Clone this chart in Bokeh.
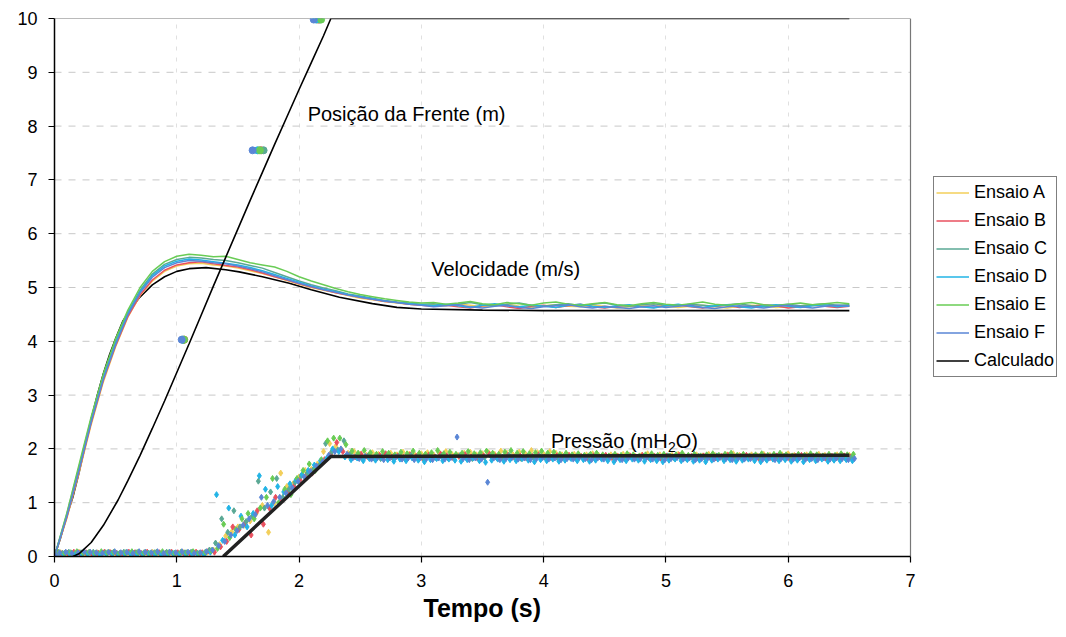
import numpy as np
from bokeh.plotting import figure
from bokeh.models import Range1d, Legend, LegendItem, Label, FixedTicker, Title
from bokeh.embed import file_html
from bokeh.resources import INLINE

# ---------------- data ----------------
series_names = ["Ensaio A", "Ensaio B", "Ensaio C", "Ensaio D", "Ensaio E", "Ensaio F"]
series_colors = ["#f3cf5a", "#e9505f", "#5aa894", "#22b4e6", "#69cc55", "#5a86d6"]

# measured velocity (m/s), sampled every 0.1 s from 0 to 6.5 s
t_vel = np.round(np.arange(0, 66) * 0.1, 2)
vel_A = [0, 0.7, 1.55, 2.45, 3.25, 3.9, 4.45, 4.85, 5.12, 5.3, 5.4,
         5.44, 5.45, 5.42, 5.4, 5.36, 5.31, 5.26, 5.2, 5.13, 5.06,
         5.0, 4.95, 4.9, 4.85, 4.8, 4.77, 4.74, 4.71, 4.69, 4.67,
         4.68, 4.66, 4.7, 4.67, 4.64, 4.66, 4.69, 4.65, 4.63, 4.66, 4.68, 4.65, 4.64, 4.67, 4.65,
         4.62, 4.64, 4.66, 4.68, 4.65, 4.63, 4.65, 4.67, 4.64, 4.62, 4.65, 4.67, 4.66, 4.63, 4.64,
         4.66, 4.68, 4.65, 4.64, 4.66]
vel_B = [0, 0.72, 1.58, 2.48, 3.28, 3.92, 4.46, 4.86, 5.14, 5.32, 5.42,
         5.46, 5.48, 5.44, 5.41, 5.38, 5.33, 5.27, 5.2, 5.14, 5.07,
         5.01, 4.96, 4.9, 4.86, 4.82, 4.78, 4.74, 4.72, 4.69, 4.67,
         4.65, 4.67, 4.64, 4.62, 4.66, 4.68, 4.64, 4.61, 4.65, 4.67, 4.63, 4.66, 4.69, 4.64, 4.62,
         4.65, 4.67, 4.64, 4.63, 4.66, 4.68, 4.64, 4.62, 4.65, 4.67, 4.63, 4.65, 4.68, 4.66, 4.62,
         4.64, 4.67, 4.65, 4.63, 4.65]
vel_C = [0, 0.78, 1.66, 2.56, 3.36, 4.0, 4.54, 4.95, 5.25, 5.43, 5.52,
         5.56, 5.55, 5.52, 5.5, 5.46, 5.41, 5.36, 5.28, 5.2, 5.12,
         5.05, 4.99, 4.94, 4.88, 4.84, 4.8, 4.76, 4.73, 4.71, 4.69,
         4.7, 4.67, 4.69, 4.72, 4.68, 4.66, 4.69, 4.71, 4.67, 4.65, 4.68, 4.7, 4.66, 4.69, 4.71,
         4.67, 4.65, 4.68, 4.7, 4.67, 4.66, 4.69, 4.67, 4.65, 4.68, 4.7, 4.66, 4.64, 4.67, 4.69,
         4.66, 4.68, 4.7, 4.67, 4.68]
vel_D = [0, 0.76, 1.63, 2.53, 3.33, 3.97, 4.52, 4.92, 5.22, 5.4, 5.49,
         5.53, 5.51, 5.48, 5.45, 5.42, 5.37, 5.31, 5.24, 5.17, 5.1,
         5.03, 4.97, 4.92, 4.87, 4.83, 4.79, 4.75, 4.72, 4.7, 4.68,
         4.66, 4.69, 4.66, 4.63, 4.67, 4.7, 4.66, 4.64, 4.67, 4.65, 4.63, 4.67, 4.69, 4.65, 4.63,
         4.66, 4.68, 4.64, 4.62, 4.66, 4.69, 4.65, 4.63, 4.66, 4.68, 4.64, 4.62, 4.66, 4.68, 4.65,
         4.63, 4.66, 4.68, 4.64, 4.66]
vel_E = [0, 0.8, 1.7, 2.6, 3.4, 4.05, 4.58, 5.0, 5.3, 5.48, 5.58,
         5.62, 5.6, 5.57, 5.58, 5.52, 5.46, 5.42, 5.38, 5.3, 5.2,
         5.12, 5.05, 4.98, 4.92, 4.87, 4.83, 4.79, 4.76, 4.73, 4.71,
         4.72, 4.69, 4.71, 4.74, 4.7, 4.68, 4.72, 4.7, 4.67, 4.71, 4.73, 4.69, 4.67, 4.7, 4.72,
         4.68, 4.66, 4.7, 4.72, 4.69, 4.67, 4.7, 4.73, 4.69, 4.67, 4.7, 4.72, 4.68, 4.66, 4.69,
         4.71, 4.68, 4.7, 4.72, 4.7]
vel_F = [0, 0.74, 1.6, 2.5, 3.3, 3.94, 4.49, 4.9, 5.19, 5.37, 5.46,
         5.5, 5.49, 5.46, 5.44, 5.4, 5.35, 5.29, 5.22, 5.15, 5.08,
         5.02, 4.96, 4.91, 4.86, 4.82, 4.78, 4.75, 4.72, 4.69, 4.67,
         4.64, 4.66, 4.68, 4.64, 4.62, 4.65, 4.67, 4.63, 4.61, 4.64, 4.66, 4.68, 4.64, 4.62, 4.65,
         4.63, 4.61, 4.64, 4.66, 4.63, 4.65, 4.67, 4.63, 4.61, 4.64, 4.66, 4.64, 4.62, 4.65, 4.67,
         4.64, 4.62, 4.65, 4.67, 4.65]
vel_series = [vel_A, vel_B, vel_C, vel_D, vel_E, vel_F]

# measured pressure (mH2O), sampled every 0.05 s; each test has its own sampling phase (s)
t_press = np.round(np.arange(0, 131) * 0.05, 3)
press_phase = [0.0, 0.008, 0.017, 0.025, 0.033, 0.042]
p_base_A = [0.06, 0.07, 0.05, 0.06, 0.08, 0.06, 0.05, 0.07, 0.06, 0.08, 0.05, 0.06, 0.07,
            0.06, 0.05, 0.07, 0.08, 0.06, 0.05, 0.07, 0.06, 0.08, 0.06, 0.07, 0.05, 0.08]
p_base_B = [0.07, 0.05, 0.06, 0.08, 0.06, 0.07, 0.05, 0.06, 0.08, 0.07, 0.06, 0.05, 0.08,
            0.07, 0.06, 0.08, 0.05, 0.07, 0.06, 0.08, 0.07, 0.05, 0.06, 0.08, 0.07, 0.1]
p_base_C = [0.05, 0.06, 0.08, 0.05, 0.07, 0.06, 0.08, 0.05, 0.07, 0.06, 0.05, 0.08, 0.06,
            0.07, 0.05, 0.06, 0.07, 0.05, 0.08, 0.06, 0.05, 0.07, 0.08, 0.06, 0.05, 0.12]
p_base_D = [0.04, 0.03, 0.05, 0.04, 0.03, 0.05, 0.04, 0.03, 0.04, 0.05, 0.03, 0.04, 0.05,
            0.03, 0.04, 0.05, 0.03, 0.04, 0.03, 0.05, 0.04, 0.03, 0.05, 0.04, 0.03, 0.08]
p_base_E = [0.08, 0.06, 0.07, 0.09, 0.07, 0.08, 0.06, 0.09, 0.07, 0.08, 0.06, 0.07, 0.09,
            0.08, 0.07, 0.06, 0.08, 0.09, 0.07, 0.06, 0.08, 0.07, 0.09, 0.06, 0.08, 0.11]
p_base_F = [0.07, 0.08, 0.06, 0.07, 0.09, 0.08, 0.07, 0.06, 0.08, 0.09, 0.07, 0.08, 0.06,
            0.09, 0.08, 0.07, 0.09, 0.06, 0.08, 0.07, 0.09, 0.08, 0.06, 0.07, 0.09, 0.12]
p_rise_A = [0.12, 0.22, 0.38, 0.46, 0.55, 0.58, 0.66, 0.8, 0.95, 0.45,
            1.0, 1.55, 1.3, 1.35, 1.48, 1.6, 1.62, 1.72, 1.95, 2.1]
p_rise_B = [0.08, 0.18, 0.28, 0.55, 0.5, 0.62, 0.4, 0.85, 0.6, 0.9,
            1.1, 1.05, 1.2, 1.3, 1.42, 1.5, 1.55, 1.68, 1.8, 1.9]
p_rise_C = [0.25, 0.7, 0.45, 0.85, 0.55, 0.65, 0.75, 1.4, 0.9, 1.2,
            1.45, 1.1, 1.25, 1.38, 1.5, 1.55, 1.62, 1.7, 2.1, 1.95]
p_rise_D = [1.15, 0.3, 0.9, 0.4, 0.75, 0.55, 0.8, 1.5, 1.25, 0.95,
            1.3, 1.2, 1.35, 1.42, 1.52, 1.6, 1.7, 1.78, 1.82, 2.0]
p_rise_E = [0.15, 0.6, 0.35, 0.5, 0.7, 0.8, 0.7, 0.9, 1.1, 1.45,
            1.0, 1.25, 1.15, 1.45, 1.6, 1.72, 1.6, 1.8, 2.15, 2.2]
p_rise_F = [0.2, 0.28, 0.4, 0.48, 0.58, 0.7, 0.78, 1.1, 0.95, 1.02,
            1.1, 1.18, 1.28, 1.4, 1.48, 1.58, 1.68, 1.76, 1.88, 1.95]
p_flat_A = [2.05, 1.98, 1.92, 1.95, 1.9, 1.88, 1.93, 1.9, 1.87, 1.92, 1.89, 1.94, 1.9, 1.88, 1.91,
            1.93, 1.89, 1.92, 1.95, 1.9, 1.88, 1.92, 1.94, 1.89, 1.91, 1.93, 1.9, 1.96, 1.92, 1.89,
            1.94, 1.91, 1.97, 1.93, 1.9, 1.95, 1.92, 1.89, 1.88, 1.9, 1.87, 1.89, 1.91, 1.88, 1.86,
            1.89, 1.87, 1.9, 1.88, 1.86, 1.88, 1.91, 1.87, 1.89, 1.86, 1.88, 1.9, 1.87, 1.85, 1.89,
            1.87, 1.9, 1.88, 1.86, 1.89, 1.91, 1.88, 1.86, 1.89, 1.87, 1.9, 1.88, 1.86, 1.89, 1.91,
            1.88, 1.86, 1.89, 1.87, 1.9, 1.88, 1.86, 1.89, 1.87, 1.88]
p_flat_B = [2.12, 1.95, 1.88, 1.85, 1.9, 1.86, 1.83, 1.88, 1.91, 1.85, 1.87, 1.84, 1.89, 1.86, 1.83,
            1.88, 1.85, 1.9, 1.87, 1.84, 1.86, 1.89, 1.85, 1.83, 1.87, 1.9, 1.86, 1.84, 1.88, 1.85,
            1.87, 1.83, 1.86, 1.89, 1.85, 1.84, 1.87, 1.85, 1.88, 1.84, 1.86, 1.83, 1.87, 1.85, 1.88,
            1.84, 1.86, 1.83, 1.87, 1.85, 1.88, 1.84, 1.86, 1.83, 1.87, 1.85, 1.88, 1.84, 1.86, 1.83,
            1.87, 1.85, 1.83, 1.86, 1.88, 1.84, 1.86, 1.88, 1.85, 1.83, 1.86, 1.84, 1.87, 1.85, 1.83,
            1.86, 1.88, 1.84, 1.86, 1.85, 1.83, 1.86, 1.84, 1.87, 1.85]
p_flat_C = [1.98, 2.15, 1.9, 1.86, 1.83, 1.88, 1.85, 1.82, 1.87, 1.84, 1.86, 1.83, 1.88, 1.85, 1.82,
            1.86, 1.84, 1.87, 1.83, 1.85, 1.88, 1.84, 1.82, 1.86, 1.84, 1.87, 1.83, 1.85, 1.88, 1.84,
            1.82, 1.86, 1.84, 1.87, 1.83, 1.85, 1.82, 1.86, 1.84, 1.83, 1.85, 1.87, 1.83, 1.85, 1.82,
            1.86, 1.84, 1.82, 1.85, 1.83, 1.86, 1.84, 1.82, 1.85, 1.87, 1.83, 1.85, 1.82, 1.84, 1.86,
            1.83, 1.85, 1.87, 1.83, 1.84, 1.82, 1.85, 1.83, 1.86, 1.84, 1.82, 1.85, 1.83, 1.86, 1.84,
            1.82, 1.84, 1.86, 1.83, 1.85, 1.84, 1.82, 1.85, 1.83, 1.84]
p_flat_D = [1.95, 1.85, 1.8, 1.83, 1.78, 1.82, 1.79, 1.84, 1.8, 1.77, 1.81, 1.78, 1.83, 1.79, 1.76,
            1.8, 1.82, 1.78, 1.81, 1.79, 1.77, 1.8, 1.83, 1.78, 1.75, 1.79, 1.81, 1.77, 1.8, 1.78,
            1.82, 1.79, 1.76, 1.8, 1.78, 1.81, 1.77, 1.79, 1.82, 1.78, 1.8, 1.77, 1.79, 1.81, 1.78,
            1.76, 1.8, 1.78, 1.81, 1.79, 1.77, 1.8, 1.78, 1.76, 1.79, 1.81, 1.78, 1.8, 1.77, 1.79,
            1.76, 1.79, 1.81, 1.78, 1.8, 1.77, 1.79, 1.81, 1.78, 1.76, 1.79, 1.81, 1.78, 1.8, 1.77,
            1.79, 1.76, 1.8, 1.78, 1.81, 1.77, 1.79, 1.78, 1.8, 1.78]
p_flat_E = [2.2, 2.08, 1.96, 1.92, 1.97, 1.93, 1.9, 1.95, 1.92, 1.89, 1.94, 1.91, 1.96, 1.92, 1.9,
            1.93, 1.97, 1.91, 1.94, 1.9, 1.92, 1.95, 1.91, 1.93, 1.96, 1.92, 1.9, 1.94, 1.97, 1.92,
            1.95, 1.91, 1.93, 1.96, 1.92, 1.94, 1.9, 1.92, 1.89, 1.91, 1.88, 1.9, 1.92, 1.89, 1.87,
            1.9, 1.88, 1.91, 1.89, 1.87, 1.89, 1.91, 1.88, 1.9, 1.87, 1.89, 1.92, 1.88, 1.9, 1.87,
            1.89, 1.91, 1.88, 1.9, 1.92, 1.88, 1.9, 1.87, 1.89, 1.91, 1.88, 1.9, 1.92, 1.89, 1.87,
            1.9, 1.88, 1.91, 1.89, 1.87, 1.9, 1.88, 1.91, 1.89, 1.9]
p_flat_F = [2.0, 1.9, 1.84, 1.82, 1.86, 1.81, 1.84, 1.8, 1.83, 1.85, 1.81, 1.83, 1.8, 1.84, 1.82,
            1.8, 1.83, 1.81, 1.84, 2.22, 1.82, 1.8, 1.83, 1.81, 1.38, 1.83, 1.8, 1.82, 1.84, 1.81,
            1.83, 1.8, 1.82, 1.84, 1.81, 1.83, 1.8, 1.82, 1.81, 1.84, 1.82, 1.8, 1.83, 1.81, 1.84,
            1.82, 1.8, 1.83, 1.81, 1.82, 1.84, 1.81, 1.83, 1.8, 1.82, 1.84, 1.81, 1.83, 1.8, 1.82,
            1.83, 1.81, 1.84, 1.82, 1.8, 1.83, 1.81, 1.82, 1.84, 1.81, 1.83, 1.8, 1.82, 1.84, 1.81,
            1.83, 1.81, 1.82, 1.8, 1.83, 1.81, 1.83, 1.82, 1.8, 1.82]
press_series = [p_base_A + p_rise_A + p_flat_A, p_base_B + p_rise_B + p_flat_B,
                p_base_C + p_rise_C + p_flat_C, p_base_D + p_rise_D + p_flat_D,
                p_base_E + p_rise_E + p_flat_E, p_base_F + p_rise_F + p_flat_F]

# measured front position (m) at the sensor locations
front_pos = [0.0, 4.03, 7.55, 9.98]
front_t_A = [0.0, 1.06, 1.67, 2.15]
front_t_B = [0.0, 1.06, 1.69, 2.16]
front_t_C = [0.0, 1.05, 1.71, 2.17]
front_t_D = [0.0, 1.05, 1.66, 2.14]
front_t_E = [0.0, 1.06, 1.68, 2.18]
front_t_F = [0.0, 1.04, 1.62, 2.12]
front_series = [front_t_A, front_t_B, front_t_C, front_t_D, front_t_E, front_t_F]

# calculated curves
t_calc_vel = [0, 0.05, 0.1, 0.15, 0.2, 0.25, 0.3, 0.35, 0.4, 0.45, 0.5, 0.56, 0.6, 0.69, 0.8, 0.9,
              1.0, 1.1, 1.24, 1.4, 1.51, 1.7, 1.92, 2.1, 2.33, 2.6, 2.8, 3.0, 3.5, 4.0, 5.0, 6.5]
calc_vel = [0, 0.35, 0.75, 1.1, 1.55, 2.05, 2.55, 3.0, 3.4, 3.75, 4.05, 4.38, 4.52, 4.8, 5.05, 5.2,
            5.3, 5.35, 5.37, 5.33, 5.29, 5.2, 5.08, 4.96, 4.82, 4.7, 4.63, 4.6, 4.58, 4.57, 4.57, 4.57]
t_calc_pos = [0.15, 0.2, 0.3, 0.4, 0.52, 0.6, 0.7, 0.8, 0.9, 1.0, 1.1, 1.2, 1.3, 1.4, 1.5, 1.6,
              1.7, 1.8, 1.9, 2.0, 2.1, 2.2, 2.26, 6.5]
calc_pos = [0, 0.05, 0.26, 0.58, 1.05, 1.41, 1.88, 2.38, 2.89, 3.42, 3.95, 4.49, 5.03, 5.56, 6.09,
            6.62, 7.14, 7.66, 8.17, 8.68, 9.18, 9.68, 10.0, 10.0]
t_calc_press = [1.38, 2.26, 6.5]
calc_press = [0.0, 1.86, 1.88]

x_ticks = [0, 1, 2, 3, 4, 5, 6, 7]
y_ticks = [0, 1, 2, 3, 4, 5, 6, 7, 8, 9, 10]

# ---------------- figure ----------------
FONT = "Liberation Sans"
W, H = 1066, 637
LEFT, RIGHT_PLOT, TOP, BOTTOM = 54, 910, 18, 81
# the frame runs to the window edge so the legend can sit right of the 0..7 plot area
x_end = x_ticks[-1] * (W - LEFT) / (RIGHT_PLOT - LEFT)

p = figure(width=W, height=H, x_range=Range1d(0, x_end), y_range=Range1d(0, y_ticks[-1]),
           output_backend="svg", toolbar_location=None,
           min_border_left=LEFT, min_border_right=0, min_border_top=TOP, min_border_bottom=BOTTOM)
p.background_fill_color = "white"
p.border_fill_color = "white"
p.outline_line_color = None

p.xaxis.ticker = FixedTicker(ticks=x_ticks)
p.xaxis.bounds = (x_ticks[0], x_ticks[-1])
p.yaxis.ticker = FixedTicker(ticks=y_ticks)
for ax in (p.xaxis, p.yaxis):
    ax.axis_line_color = "black"
    ax.axis_line_width = 1.5
    ax.major_tick_line_color = "black"
    ax.major_tick_line_width = 1.2
    ax.major_tick_in = 0
    ax.major_tick_out = 6
    ax.minor_tick_line_color = None
    ax.major_label_text_font = FONT
    ax.major_label_text_font_size = "18px"
    ax.major_label_text_color = "black"
    ax.major_label_standoff = 11

# x axis title, placed under the 0..7 axis (title panel below the axis)
x_title = Title(text="Tempo (s)", align="left", offset=369, standoff=4,
                text_font=FONT, text_font_size="25px", text_font_style="bold", text_color="black")
p.add_layout(x_title, "below")

# gridlines limited to the 0..7 plot area
p.ygrid.grid_line_color = None
p.xgrid.grid_line_color = "#e0e0e0"
p.xgrid.grid_line_dash = "4 7"
p.xgrid.grid_line_width = 1
p.xgrid.ticker = FixedTicker(ticks=x_ticks[1:-1])
n_y = len(y_ticks) - 2
p.segment(x0=[x_ticks[0]] * n_y, y0=y_ticks[1:-1], x1=[x_ticks[-1]] * n_y, y1=y_ticks[1:-1],
          line_color="#c8c8c8", line_dash="7 7", line_width=1)
# plot-area border (top and right)
p.segment(x0=[x_ticks[0], x_ticks[-1]], y0=[y_ticks[-1], y_ticks[0]],
          x1=[x_ticks[-1], x_ticks[-1]], y1=[y_ticks[-1], y_ticks[-1]],
          line_color="#777777", line_width=1.2)

# pressure measurements (scatter)
for vals, col, ph in zip(press_series, series_colors, press_phase):
    p.scatter(t_press + ph, vals, marker="diamond", size=6, fill_color=col, line_color=col)
p.line(t_calc_press, calc_press, line_color="#222222", line_width=3.5)

# velocity
calc_vel_r = p.line(t_calc_vel, calc_vel, line_color="black", line_width=1.6)
vel_renderers = []
for vals, col in zip(vel_series, series_colors):
    vel_renderers.append(p.line(t_vel, vals, line_color=col, line_width=1.5))

# front position
p.line(t_calc_pos, calc_pos, line_color="black", line_width=1.6)
for tv, col in zip(front_series, series_colors):
    p.scatter(tv, front_pos, marker="circle", size=7, fill_color=col, line_color=col)

# annotations
p.add_layout(Label(x=2.07, y=8.23, text="Posição da Frente (m)", text_font=FONT,
                   text_font_size="20px", text_baseline="middle", text_color="black"))
p.add_layout(Label(x=3.08, y=5.34, text="Velocidade (m/s)", text_font=FONT,
                   text_font_size="20px", text_baseline="middle", text_color="black"))
p.add_layout(Label(x=4.06, y=2.14, text="Pressão (mH", text_font=FONT,
                   text_font_size="20px", text_baseline="middle", text_color="black"))
p.add_layout(Label(x=4.06, y=2.14, x_offset=117, y_offset=-6, text="2", text_font=FONT,
                   text_font_size="14px", text_baseline="middle", text_color="black"))
p.add_layout(Label(x=4.06, y=2.14, x_offset=124.8, text="O)", text_font=FONT,
                   text_font_size="20px", text_baseline="middle", text_color="black"))

items = [LegendItem(label=n, renderers=[r]) for n, r in zip(series_names, vel_renderers)]
items.append(LegendItem(label="Calculado", renderers=[calc_vel_r]))
legend = Legend(items=items, location=(879, 179), border_line_color="black", border_line_width=1,
                background_fill_color="white", background_fill_alpha=1.0,
                label_text_font=FONT, label_text_font_size="18px", label_text_color="black",
                glyph_width=33, glyph_height=27, label_height=27, label_standoff=5,
                spacing=1, padding=2, margin=0)
p.add_layout(legend)

open("out.html", "w").write(file_html(p, INLINE))
